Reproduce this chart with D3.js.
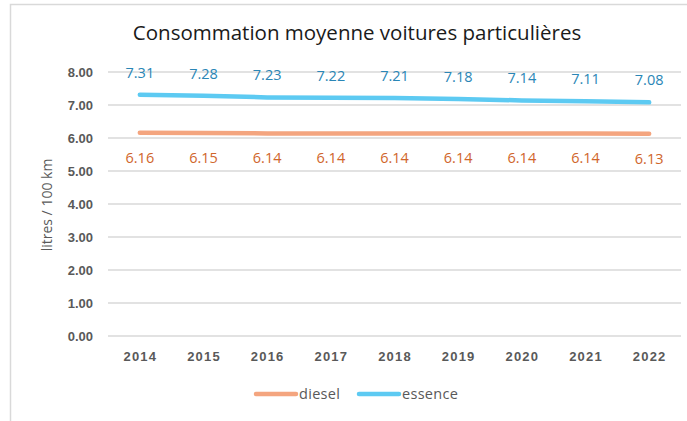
<!DOCTYPE html>
<html><head><meta charset="utf-8">
<script src="https://cdn.jsdelivr.net/npm/d3@7"></script>
<style>body{margin:0;background:#fff;} svg{display:block;}</style>
</head><body>
<script>
const years = ["2014","2015","2016","2017","2018","2019","2020","2021","2022"];
const diesel = [6.16,6.15,6.14,6.14,6.14,6.14,6.14,6.14,6.13];
const essence = [7.31,7.28,7.23,7.22,7.21,7.18,7.14,7.11,7.08];
const yTicks = [0,1,2,3,4,5,6,7,8];
const title = "Consommation moyenne voitures particulières";
const yTitle = "litres / 100 km";

const W = 687, H = 421;
const svg = d3.select("body").append("svg").attr("width", W).attr("height", H);
svg.append("rect").attr("x",10.5).attr("y",4.5).attr("width",W+10).attr("height",H+10)
  .attr("fill","#fff").attr("stroke","#d9d9d9").attr("stroke-width",1.5);

const x = d3.scaleBand().domain(years).range([108,681]);
const y = d3.scaleLinear().domain([0,8]).range([336,72]);

svg.append("text").attr("x",357).attr("y",40).attr("text-anchor","middle")
  .attr("font-family","Open Sans, sans-serif").attr("font-size",20.5).attr("fill","#1a1a1a")
  .text(title);

// grid
svg.append("g").selectAll("line").data(yTicks).join("line")
  .attr("x1",108).attr("x2",681).attr("y1",d=>y(d)).attr("y2",d=>y(d))
  .attr("stroke","#d9d9d9").attr("stroke-width",1.3);

// y tick labels
svg.append("g").selectAll("text").data(yTicks).join("text")
  .attr("x",93).attr("y",d=>y(d)+5).attr("text-anchor","end")
  .attr("font-family","Liberation Sans, Arial, sans-serif").attr("font-weight","bold")
  .attr("font-size",13).attr("fill","#595959").text(d=>d3.format(".2f")(d));

// x tick labels
svg.append("g").selectAll("text").data(years).join("text")
  .attr("x",d=>x(d)+x.bandwidth()/2+0.5).attr("y",361).attr("text-anchor","middle")
  .attr("font-family","Liberation Sans, Arial, sans-serif").attr("font-weight","bold")
  .attr("font-size",13).attr("letter-spacing","1.2px").attr("fill","#595959").text(d=>d);

svg.append("text").attr("transform","translate(52,205) rotate(-90)").attr("text-anchor","middle")
  .attr("font-family","Open Sans, sans-serif").attr("font-size",14).attr("fill","#595959")
  .text(yTitle);

const cx = d=>x(d)+x.bandwidth()/2;
const line = d3.line().x((d,i)=>cx(years[i])).y(d=>y(d));

const series = [
  {name:"diesel", vals:diesel, color:"#f4a57f", lab:"#d0652b", dy:30},
  {name:"essence", vals:essence, color:"#5dcaf2", lab:"#2a86b6", dy:-17}
];
series.forEach(s=>{
  svg.append("path").attr("d",line(s.vals)).attr("fill","none")
    .attr("stroke",s.color).attr("stroke-width",4.5).attr("stroke-linecap","round");
  svg.append("g").selectAll("text").data(s.vals).join("text")
    .attr("x",(d,i)=>cx(years[i])).attr("y",d=>y(d)+s.dy).attr("text-anchor","middle")
    .attr("font-family","Open Sans, sans-serif").attr("font-size",14.5).attr("fill",s.lab)
    .text(d=>d3.format(".2f")(d));
});

// legend
const leg = [{name:"diesel",color:"#f4a57f",x:256},{name:"essence",color:"#5dcaf2",x:359}];
leg.forEach(l=>{
  svg.append("line").attr("x1",l.x).attr("x2",l.x+40).attr("y1",394).attr("y2",394)
    .attr("stroke",l.color).attr("stroke-width",4.5).attr("stroke-linecap","round");
  svg.append("text").attr("x",l.x+43).attr("y",399).attr("font-family","Open Sans, sans-serif")
    .attr("font-size",14.5).attr("letter-spacing","0.3px").attr("fill","#595959").text(l.name);
});
</script>
</body></html>
